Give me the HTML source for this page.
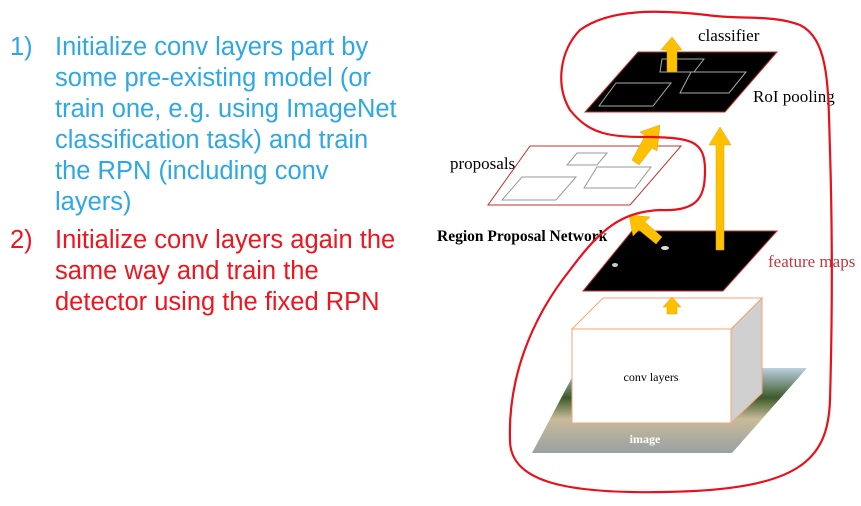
<!DOCTYPE html>
<html><head><meta charset="utf-8"><style>
body{margin:0;width:861px;height:506px;background:#fff;position:relative;overflow:hidden;font-family:"Liberation Sans",Arial,sans-serif}
.l{position:absolute;left:0;top:0;font-size:25.5px;line-height:31px;white-space:nowrap}
.l div{position:relative;padding-left:55px}
.l span{position:absolute;left:10px}
.b{color:#2ea7e6}.r{color:#f0141e}
svg{position:absolute;left:0;top:0}
</style></head><body>
<div class="l" style="top:32px">
<div class="b"><span>1)</span>Initialize conv layers part by<br>some pre-existing model (or<br>train one, e.g. using ImageNet<br>classification task) and train<br>the RPN (including conv<br>layers)</div>
<div class="r" style="margin-top:7px"><span>2)</span>Initialize conv layers again the<br>same way and train the<br>detector using the fixed RPN</div>
</div>
<svg width="861" height="506" viewBox="0 0 861 506">
<defs><linearGradient id="im" x1="0" y1="0" x2="0" y2="1"><stop offset="0" stop-color="#bcd0e0"/><stop offset="0.35" stop-color="#3d5a2a"/><stop offset="0.6" stop-color="#c9bb9a"/><stop offset="1" stop-color="#9aa0a4"/></linearGradient></defs>
<polygon points="577,368 807,368 732,453 532,453" fill="url(#im)"/>
<text x="645" y="443" font-family="Liberation Serif" font-size="12" font-weight="bold" fill="#fff" text-anchor="middle">image</text>
<polygon points="731,329 762,298 762,393 731,423" fill="#d0d0d0" stroke="#f4a57a"/>
<polygon points="572,329 603,298 762,298 731,329" fill="#fff" stroke="#f4a57a"/>
<rect x="572" y="329" width="159" height="94" fill="#fff" stroke="#f4a57a"/>
<text x="651" y="381" font-family="Liberation Serif" font-size="12" text-anchor="middle">conv layers</text>
<polygon points="632,231 777,231 723,291 583,291" fill="#000" stroke="#c03030"/>
<ellipse cx="665" cy="248" rx="4" ry="2" fill="#ddd"/><ellipse cx="615" cy="265" rx="3" ry="2" fill="#ccc"/>
<text x="768" y="267" font-family="Liberation Serif" font-size="17" fill="#c0393b">feature maps</text>
<text x="437" y="241" font-family="Liberation Serif" font-size="15.5" font-weight="bold">Region Proposal Network</text>
<polygon points="530,146 681,146 630,205 488,205" fill="#fff" stroke="#c03030"/>
<polygon points="577,153 607,153 597,165 567,165" fill="none" stroke="#999"/>
<polygon points="597,167 651,167 635,188 584,188" fill="none" stroke="#999"/>
<polygon points="522,177 576,177 556,200 502,200" fill="none" stroke="#999"/>
<text x="450" y="169" font-family="Liberation Serif" font-size="17">proposals</text>
<polygon points="638,52 777,52 725,112 585,112" fill="#000" stroke="#c03030"/>
<polygon points="662,59 704,59 694,72 660,72" fill="none" stroke="#aaa"/>
<polygon points="691,72 746,72 729,93 680,93" fill="none" stroke="#aaa"/>
<polygon points="616,83 671,83 653,106 599,106" fill="none" stroke="#aaa"/>
<text x="698" y="41" font-family="Liberation Serif" font-size="17">classifier</text>
<text x="753" y="102" font-family="Liberation Serif" font-size="17">RoI pooling</text>
<g fill="#ffc000" stroke="#e0a000" stroke-width="0.5">
<polygon points="667,72 677,72 677,50 682,50 672,37 661,50 667,50"/>
<polygon points="716,250 724,250 724,145 731,145 720,127 709,145 716,145"/>
<polygon points="667,314 677,314 677,307 681,307 672,297 663,307 667,307"/>
<polygon points="656,244 662,237 645,222 650,217 629,215 633,236 639,230"/>
<polygon points="632,160 639,165 652,148 657,151 660,125 640,132 645,136"/>
</g>
<path d="M707,15 C740,20 770,14 800,25 C830,40 828,90 830,150 C833,250 832,330 830,400 C828,460 800,490 665,492 C560,494 510,480 510,440 C508,380 530,320 570,270 C600,230 620,212 660,210 C700,212 705,195 705,170 C705,140 690,138 650,137 C610,137 590,135 570,110 C555,85 560,50 580,30 C610,8 660,10 707,15 Z" fill="none" stroke="#e8101a" stroke-width="2.2"/>
</svg>
</body></html>
